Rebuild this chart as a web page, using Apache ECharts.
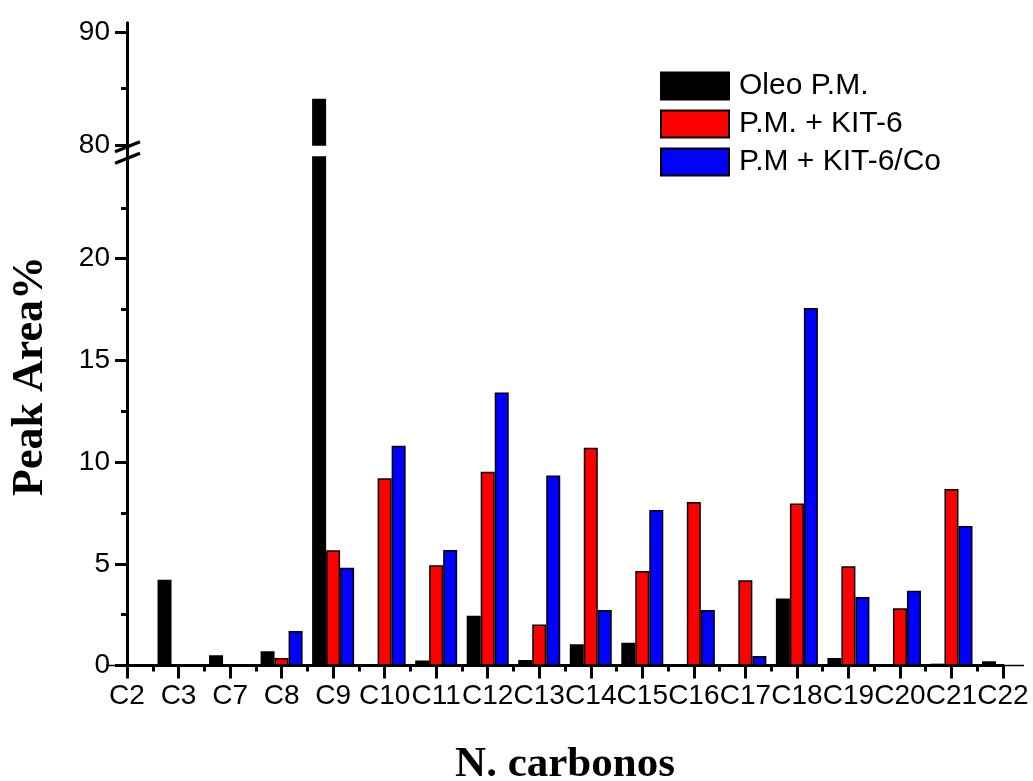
<!DOCTYPE html>
<html>
<head>
<meta charset="utf-8">
<script src="https://cdn.jsdelivr.net/npm/echarts@6/dist/echarts.min.js"></script>
<style>
html,body{margin:0;padding:0;background:#fff;}
#chart{width:1033px;height:781px;}
</style>
</head>
<body>
<div id="chart"></div>
<script>
// ---- data ----
var categories = ['C2','C3','C7','C8','C9','C10','C11','C12','C13','C14','C15','C16','C17','C18','C19','C20','C21','C22'];
var oleoPM   = [0, 4.22, 0.50, 0.70, 84.1, 0, 0.24, 2.45, 0.27, 1.04, 1.12, 0, 0.06, 3.29, 0.37, 0, 0.09, 0.21];
var pmKit6   = [0, 0, 0, 0.37, 5.67, 9.21, 4.93, 9.53, 2.01, 10.71, 4.65, 8.04, 4.19, 7.96, 4.88, 2.81, 8.68, 0];
var pmKit6Co = [0, 0, 0.05, 1.70, 4.80, 10.80, 5.68, 13.42, 9.34, 2.73, 7.65, 2.73, 0.47, 17.58, 3.37, 3.67, 6.86, 0];
var seriesNames = ['Oleo P.M.', 'P.M. + KIT-6', 'P.M + KIT-6/Co'];
var upperTicks = [80, 90];
var lowerTicks = [0, 5, 10, 15, 20];

// ---- layout / style ----
var SANS = '"Liberation Sans", Arial, sans-serif';
var SERIF = '"Liberation Serif", "Times New Roman", serif';
var L = 127, R = 30, TOP = 23, BREAK_HI = 145, BREAK_LO = 157, BASE = 665.5;
var colors = ['#000000', '#ff0000', '#0000ff'];
var seriesData = [oleoPM, pmKit6, pmKit6Co];

var chart = echarts.init(document.getElementById('chart'), null, {renderer: 'canvas'});

function yAxisBase(grid, min, max, interval, ticks) {
  return {
    type: 'value', gridIndex: grid, min: min, max: max, interval: interval,
    axisLine: {show: true, lineStyle: {color: '#000', width: 3}},
    axisTick: {show: true, inside: false, length: 12, lineStyle: {color: '#000', width: 3}, customValues: ticks},
    minorTick: {show: true, splitNumber: 2, length: 6, lineStyle: {color: '#000', width: 3}},
    axisLabel: {show: true, fontSize: 28, fontFamily: SANS, color: '#000', margin: 17, customValues: ticks},
    splitLine: {show: false}, minorSplitLine: {show: false}
  };
}

var series = [];
for (var i = 0; i < 3; i++) {
  var style = {color: colors[i], borderColor: '#000', borderWidth: 1.5};
  series.push({
    name: seriesNames[i], type: 'bar', xAxisIndex: 0, yAxisIndex: 1,
    data: seriesData[i], barWidth: 14, barGap: '0%', clip: true,
    itemStyle: style, emphasis: {disabled: true}, animation: false
  });
  series.push({
    name: seriesNames[i], type: 'bar', xAxisIndex: 2, yAxisIndex: 0,
    data: seriesData[i], barWidth: 14, barGap: '0%', clip: true,
    itemStyle: style, emphasis: {disabled: true}, animation: false
  });
}

var gridCommon = {left: L, right: R, containLabel: false, outerBoundsMode: 'none'};
var option = {
  backgroundColor: '#fff',
  animation: false,
  grid: [
    Object.assign({top: TOP, height: BREAK_HI - TOP}, gridCommon),
    Object.assign({top: BREAK_LO, height: BASE - BREAK_LO}, gridCommon),
    Object.assign({top: TOP, height: BASE - TOP}, gridCommon)
  ],
  legend: {
    orient: 'vertical', left: 660, top: 71, padding: 0,
    itemWidth: 68, itemHeight: 27, itemGap: 8,
    icon: 'rect',
    data: seriesNames,
    textStyle: {fontSize: 30, fontFamily: SANS, color: '#000', padding: [0, 0, 0, 5]}
  },
  xAxis: [
    {
      type: 'category', gridIndex: 1, data: categories, boundaryGap: false,
      axisLine: {show: true, lineStyle: {color: '#000', width: 3}},
      axisTick: {show: true, inside: false, length: 13, lineStyle: {color: '#000', width: 3}, alignWithLabel: true},
      axisLabel: {show: true, interval: 0, fontSize: 28, fontFamily: SANS, color: '#000', margin: 17},
      splitLine: {show: false},
      name: 'N. carbonos', nameLocation: 'middle', nameGap: 78,
      nameTextStyle: {fontSize: 43, fontWeight: 'bold', fontFamily: SERIF, color: '#000'}
    },
    {
      type: 'value', gridIndex: 1, min: 0, max: categories.length - 1, interval: 1, position: 'bottom',
      axisLine: {show: false}, axisTick: {show: false, inside: false}, axisLabel: {show: false},
      splitLine: {show: false},
      minorTick: {show: true, splitNumber: 2, length: 6, lineStyle: {color: '#000', width: 3}}
    },
    {
      type: 'category', gridIndex: 0, data: categories, boundaryGap: false, show: false
    },
    {
      type: 'value', gridIndex: 2, position: 'top', min: 0, max: 1,
      axisLine: {show: true, lineStyle: {color: '#000', width: 3}},
      axisTick: {show: false}, axisLabel: {show: false}, splitLine: {show: false}
    }
  ],
  yAxis: [
    yAxisBase(0, 80, 90.8, 10, upperTicks),
    yAxisBase(1, 0, 25, 5, lowerTicks),
    {
      type: 'value', gridIndex: 2, position: 'right', min: 0, max: 1,
      axisLine: {show: true, lineStyle: {color: '#000', width: 3}},
      axisTick: {show: false}, axisLabel: {show: false}, splitLine: {show: false}
    }
  ],
  graphic: [
    {
      type: 'text', x: 31, y: 376, rotation: Math.PI / 2,
      style: {text: 'Peak Area%', fontSize: 44, fontWeight: 'bold', fontFamily: SERIF, fill: '#000', align: 'center', verticalAlign: 'middle'}
    },
    {
      type: 'line', shape: {x1: 115, y1: 151.7, x2: 140, y2: 141.7},
      style: {stroke: '#000', lineWidth: 3.3}, z: 100
    },
    {
      type: 'line', shape: {x1: 115, y1: 163.3, x2: 140, y2: 153.3},
      style: {stroke: '#000', lineWidth: 3.3}, z: 100
    }
  ],
  series: series
};
chart.setOption(option);
</script>
</body>
</html>
